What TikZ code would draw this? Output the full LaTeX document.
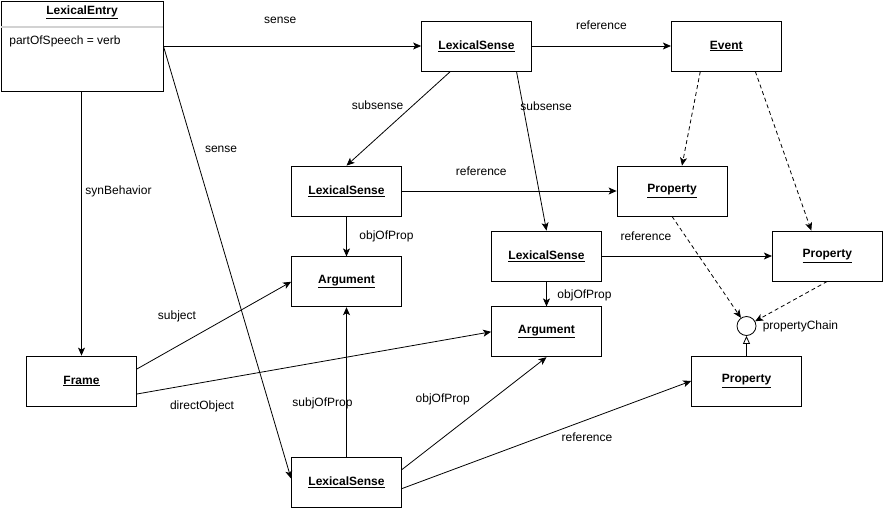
\documentclass[tikz,border=0pt]{standalone}
\usepackage{fontspec}
\setmainfont{Liberation Sans}
\usetikzlibrary{arrows.meta, positioning}
\tikzset{
  cls/.style={draw, rectangle, minimum width=110pt, minimum height=50pt, font=\fontsize{12}{14}\selectfont\bfseries},
  lbl/.style={font=\fontsize{12}{14}\selectfont, inner sep=0pt},
  dep/.style={->, dash pattern=on 4pt off 3pt},
}
\newcommand{\cname}[1]{\underline{#1}}

\begin{document}
\begin{tikzpicture}[x=1pt, y=-1pt, >={Stealth[length=8pt,width=7pt,inset=2pt]}, line width=0.8pt]
\useasboundingbox (0,0) rectangle (883,511);

% lexical entry with its attribute
\node[draw, minimum width=162pt, minimum height=90pt] (entry) at (82,46) {};
\node[lbl, font=\fontsize{12}{14}\selectfont\bfseries] (entryTitle) at (82,12) {\cname{LexicalEntry}};
\draw[gray!35, line width=1.6pt] (entry.west |- 0,27) -- (entry.east |- 0,27);
\node[lbl, anchor=west] (entryAttr) at (9,41) {partOfSpeech = verb};
\coordinate (senseOut) at (entry.east);

% classes
\node[cls] (ls1) at (476.5,46) {\cname{LexicalSense}};
\node[cls, right=139pt of ls1] (event) {\cname{Event}};
\node[cls] (ls2) at (346.5,191) {\cname{LexicalSense}};
\node[cls] (prop1) at (672,191) {\cname{Property}};
\node[cls] (ls3) at (546.5,256) {\cname{LexicalSense}};
\node[cls, right=170pt of ls3] (prop2) {\cname{Property}};
\node[cls, below=40pt of ls2] (arg1) {\cname{Argument}};
\node[cls, below=25pt of ls3] (arg2) {\cname{Argument}};
\node[cls] (frame) at (81.5,381) {\cname{Frame}};
\node[cls] (prop3) at (746.5,381) {\cname{Property}};
\node[cls, below=150pt of arg1] (ls4) {\cname{LexicalSense}};
\node[draw, circle, minimum size=19pt, inner sep=0pt,
  label={[lbl, label distance=6pt]right:propertyChain}] (chain) at (746.5,326) {};

% connectors
\draw[->] (senseOut) -- node[lbl, midway, xshift=-12pt, yshift=26pt] {sense} (ls1.west);
\draw[->] (senseOut) -- node[lbl, pos=.24, xshift=27pt] {sense} ([yshift=4pt]ls4.west);
\draw[->] (frame.north |- entry.south) -- node[lbl, pos=.38, xshift=37pt] {synBehavior} (frame.north);
\draw[->] (ls1.east) -- node[lbl, midway, yshift=21pt] {reference} (event.west);
\draw[->] ([xshift=-26pt]ls1.south) -- node[lbl, midway, xshift=-21pt, yshift=13.5pt] {subsense} (ls2.north);
\draw[->] ([xshift=40pt]ls1.south) -- node[lbl, pos=.22, xshift=23pt] {subsense} (ls3.north);
\draw[->] (ls2.east) -- node[lbl, midway, xshift=-28pt, yshift=20pt] {reference} (prop1.west);
\draw[->] (ls2.south) -- node[lbl, midway, xshift=40pt] {objOfProp} (arg1.north);
\draw[->] (ls3.east) -- node[lbl, midway, xshift=-41pt, yshift=20pt] {reference} (prop2.west);
\draw[->] (ls3.south) -- node[lbl, midway, xshift=38pt, yshift=-1.5pt] {objOfProp} (arg2.north);
\draw[->] ([yshift=12pt]frame.east) -- node[lbl, midway, xshift=-37pt, yshift=9pt] {subject} (arg1.west);
\draw[->] ([yshift=-13pt]frame.east) -- node[lbl, pos=.184, yshift=-23.6pt] {directObject} (arg2.west);
\draw[->] (ls4.north) -- node[lbl, midway, xshift=-24pt, yshift=-21pt] {subjOfProp} (arg1.south);
\draw[->] ([yshift=13pt]ls4.east) -- node[lbl, midway, xshift=-31.5pt, yshift=14.5pt] {objOfProp} (arg2.south);
\draw[->] ([yshift=-6pt]ls4.east) -- node[lbl, pos=.64, yshift=-17pt] {reference} (prop3.west);

% property chain
\draw[dep] ([xshift=-26pt]event.south) -- ([xshift=10pt]prop1.north);
\draw[dep] ([xshift=29pt]event.south) -- ([xshift=-16pt]prop2.north);
\draw[dep] (prop1.south) -- (chain);
\draw[dep] (prop2.south) -- (chain);
\draw[-{Triangle[open, length=8pt, width=7pt]}] (prop3.north) -- (chain.south);
\end{tikzpicture}
\end{document}
